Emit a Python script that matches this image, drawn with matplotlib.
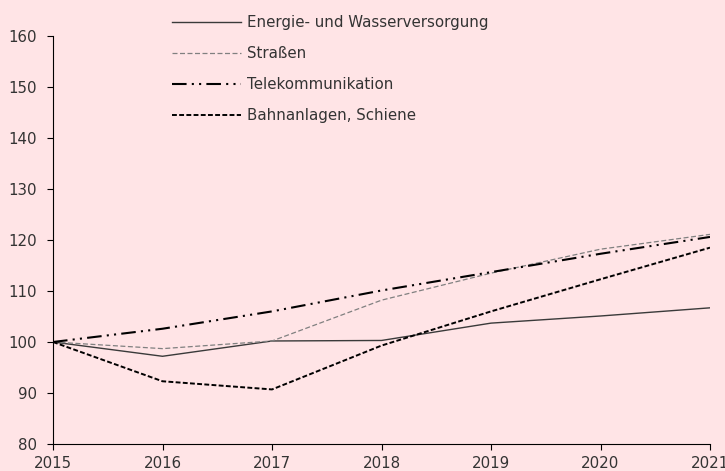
import matplotlib
matplotlib.use("Agg")
import matplotlib.pyplot as plt

years = [2015, 2016, 2017, 2018, 2019, 2020, 2021]
energie = [100, 97.2, 100.2, 100.3, 103.7, 105.1, 106.7]
strassen = [100, 98.7, 100.2, 108.2, 113.5, 118.2, 121.1]
telekom = [100, 102.6, 106.0, 110.1, 113.7, 117.3, 120.6]
bahn = [100, 92.3, 90.7, 99.3, 106.0, 112.3, 118.5]
labels = ["Energie- und Wasserversorgung", "Straßen", "Telekommunikation", "Bahnanlagen, Schiene"]
yticks = [80, 90, 100, 110, 120, 130, 140, 150, 160]

plt.rcParams['font.family'] = ['DejaVu Sans']
txt = '#333333'
bg = '#FFE4E6'
fs = 10.8
fig = plt.figure(figsize=(7.25, 4.71), dpi=100, facecolor=bg)
ax = fig.add_axes([53/725, 1-444/471, (710-53)/725, (444-36)/471])
ax.set_facecolor(bg)

ax.plot(years, energie, color='#3a3a3a', lw=1.0, label=labels[0])
ax.plot(years, strassen, color='#808080', lw=0.9, dashes=(4, 2), label=labels[1])
ax.plot(years, telekom, color='black', lw=1.5, dashes=(7, 2.5, 1, 2.5, 1, 2.5), label=labels[2])
ax.plot(years, bahn, color='black', lw=1.4, dashes=(2.5, 1.2), label=labels[3])

ax.set_xlim(2015, 2021)
ax.set_ylim(80, 160)
ax.set_yticks(yticks)
ax.set_xticks(years)
for s in ['top', 'right']:
    ax.spines[s].set_visible(False)
ax.tick_params(direction='out', length=4, width=0.8, labelsize=fs, colors='black', labelcolor=txt)
ax.tick_params(axis='y', pad=7.5)
ax.tick_params(axis='x', pad=4.5)

leg = ax.legend(loc='upper left', bbox_to_anchor=(172/725, 1-15/471), bbox_transform=fig.transFigure,
                frameon=False, fontsize=fs, handlelength=4.6, handletextpad=0.4,
                labelspacing=1.07, borderpad=0, borderaxespad=0, labelcolor=txt)

fig.savefig('out.png', dpi=100, facecolor=bg)
